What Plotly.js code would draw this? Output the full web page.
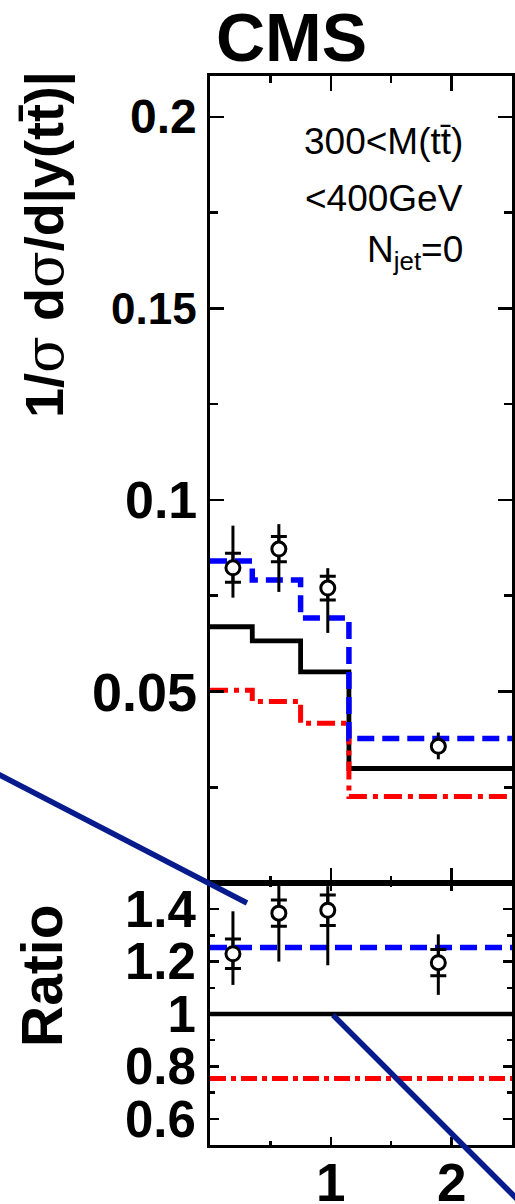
<!DOCTYPE html>
<html>
<head>
<meta charset="utf-8">
<script src="https://cdn.plot.ly/plotly-3.0.1.min.js"></script>
<style>html,body{margin:0;padding:0;background:#fff;}#chart{width:515px;height:1204px;}</style>
</head>
<body>
<div id="chart"></div>
<script>
// ---- data ----
const binEdges = [0, 0.35, 0.75, 1.15, 2.5];
const dataX = [0.19, 0.57, 0.975, 1.89];
const dataY = [0.0823, 0.0872, 0.0770, 0.0357];
const dataTotUp = [0.0110, 0.0065, 0.0052, 0.0036];
const dataTotDown = [0.0078, 0.0112, 0.0117, 0.0034];
const dataStat = [0.0038, 0.0033, 0.0031, null];
const predBlack = [0.0669, 0.0632, 0.0551, 0.0299];
const predBlue = [0.0841, 0.0791, 0.0692, 0.0377];
const predRed = [0.0503, 0.0474, 0.0417, 0.0226];
const ratioY = [1.230, 1.385, 1.396, 1.196];
const ratioTotUp = [0.162, 0.104, 0.092, 0.108];
const ratioTotDown = [0.119, 0.185, 0.210, 0.123];
const ratioStat = [0.056, 0.050, 0.058, 0.050];
const ratioBlack = [1, 1, 1, 1];
const ratioBlue = [1.254, 1.254, 1.254, 1.254];
const ratioRed = [0.754, 0.754, 0.754, 0.754];
const topTickVals = [0.05, 0.1, 0.15, 0.2];
const topTickText = ['0.05', '0.1', '0.15', '0.2'];
const ratioTickVals = [0.6, 0.8, 1, 1.2, 1.4];
const ratioTickText = ['0.6', '0.8', '1', '1.2', '1.4'];
const xTickVals = [1, 2];
const xTickText = ['1', '2'];
const labelLines = ['300&lt;M(tt\u0304)', '&lt;400GeV', 'N<sub>jet</sub>=0'];

// ---- styling ----
const FONT = 'Liberation Sans, Arial, Helvetica, sans-serif';
const topTickSizes = [54, 52, 44, 48];
const BLUE = '#0000ff', RED = '#ff0000';

function stepX() { return binEdges.slice(); }
function stepY(v) { return v.concat([v[v.length - 1]]); }

function stepTrace(vals, color, dash, width, xa, ya) {
  return {x: stepX(), y: stepY(vals), xaxis: xa, yaxis: ya, mode: 'lines',
    line: {shape: 'hv', color: color, dash: dash, width: width}, hoverinfo: 'skip'};
}
function pointTraces(xs, ys, up, down, stat, xa, ya) {
  return [
    {x: xs, y: ys, xaxis: xa, yaxis: ya, mode: 'markers', marker: {opacity: 0, size: 1},
     error_y: {type: 'data', symmetric: false, array: up, arrayminus: down, color: '#000', thickness: 3, width: 0}},
    {x: xs, y: ys, xaxis: xa, yaxis: ya, mode: 'markers', marker: {opacity: 0, size: 1},
     error_y: {type: 'data', symmetric: true, array: stat, color: '#000', thickness: 3, width: 8}},
    {x: xs, y: ys, xaxis: xa, yaxis: ya, mode: 'markers',
     marker: {symbol: 'circle', size: 14, color: '#fff', line: {color: '#000', width: 3}}}
  ];
}

const traces = [
  stepTrace(predBlack, '#000', 'solid', 4.8, 'x2', 'y2'),
  stepTrace(predRed, RED, '18px,6px,5px,6px', 5, 'x2', 'y2'),
  stepTrace(predBlue, BLUE, '17px,8px', 5.5, 'x2', 'y2'),
  ...pointTraces(dataX, dataY, dataTotUp, dataTotDown, dataStat, 'x2', 'y2'),
  stepTrace(ratioBlack, '#000', 'solid', 4.5, 'x', 'y'),
  stepTrace(ratioRed, RED, '16px,5px,5px,5px', 5, 'x', 'y'),
  stepTrace(ratioBlue, BLUE, '17px,8px', 5.5, 'x', 'y'),
  ...pointTraces(dataX, ratioY, ratioTotUp, ratioTotDown, ratioStat, 'x', 'y')
];

const split = (1145 - 883) / 1069;
const axBase = {showline: true, linewidth: 3, linecolor: '#000', mirror: 'allticks', ticks: 'inside',
  tickcolor: '#000', showgrid: false, zeroline: false, fixedrange: true};

const px = X => (X - 210) / 302, py = Y => (1145 - Y) / 1069;
const annotations = [];
// top panel y tick labels
topTickVals.forEach((v, i) => annotations.push({
  xref: 'paper', yref: 'y2', x: px(199), y: v, xanchor: 'right', yanchor: 'middle', showarrow: false,
  text: '<b>' + topTickText[i] + '</b>', font: {family: FONT, size: topTickSizes[i], color: '#000'}
}));
// bottom x tick labels
xTickVals.forEach((v, i) => annotations.push({
  xref: 'x', yref: 'paper', x: v, y: py(1182), xanchor: 'center', yanchor: 'middle', showarrow: false,
  text: '<b>' + xTickText[i] + '</b>', font: {family: FONT, size: 53, color: '#000'}
}));
// CMS
annotations.push({xref: 'paper', yref: 'paper', x: px(291), y: py(37),
  xanchor: 'center', yanchor: 'middle', showarrow: false, text: '<b>CMS</b>',
  font: {family: FONT, size: 68, color: '#000'}});
// y titles
annotations.push({xref: 'paper', yref: 'paper', x: px(44), y: py(245),
  xanchor: 'center', yanchor: 'middle', showarrow: false, textangle: -90,
  text: '<b>1/<span style="font-family:DejaVu Serif;font-weight:normal">σ</span> d<span style="font-family:DejaVu Serif;font-weight:normal">σ</span>/d|y(tt\u0304)|</b>',
  font: {family: FONT, size: 54, color: '#000'}});
annotations.push({xref: 'paper', yref: 'paper', x: px(42), y: py(976),
  xanchor: 'center', yanchor: 'middle', showarrow: false, textangle: -90,
  text: '<b>Ratio</b>', font: {family: FONT, size: 57, color: '#000'}});
// in-plot label
const labelYpx = [142, 198, 252];
labelLines.forEach((t, i) => annotations.push({
  xref: 'paper', yref: 'paper', x: px(465), y: py(labelYpx[i]),
  xanchor: 'right', yanchor: 'middle', showarrow: false, text: t,
  font: {family: FONT, size: 37, color: '#000'}
}));

const shapes = [
  {type: 'line', xref: 'paper', yref: 'paper', x0: px(-2), y0: py(774), x1: px(247), y1: py(903),
   line: {color: '#071b8c', width: 5.5}, layer: 'above'},
  {type: 'line', xref: 'paper', yref: 'paper', x0: px(333), y0: py(1015), x1: px(524), y1: py(1206),
   line: {color: '#071b8c', width: 5.5}, layer: 'above'}
];

const layout = {
  width: 515, height: 1204, showlegend: false,
  margin: {l: 210, r: 3, t: 76, b: 59},
  paper_bgcolor: '#fff', plot_bgcolor: '#fff',
  font: {family: FONT, color: '#000'},
  xaxis: Object.assign({}, axBase, {anchor: 'y', domain: [0, 1], range: [0, 2.5],
    tickmode: 'array', tickvals: xTickVals, showticklabels: false, ticklen: 8, tickwidth: 2.5,
    minor: {tickmode: 'linear', tick0: 0, dtick: 0.5, ticklen: 4, tickwidth: 2.5, tickcolor: '#000', ticks: 'inside'}}),
  yaxis: Object.assign({}, axBase, {anchor: 'x', domain: [0, split], range: [0.5, 1.5],
    tickmode: 'array', tickvals: ratioTickVals, ticktext: ratioTickText, ticklen: 9, tickwidth: 2.5,
    tickfont: {family: FONT, size: 51, color: '#000', weight: 'bold'}, ticklabelstandoff: 1,
    minor: {tickmode: 'linear', tick0: 0.5, dtick: 0.1, ticklen: 5, tickwidth: 2.5, tickcolor: '#000', ticks: 'inside'}}),
  xaxis2: Object.assign({}, axBase, {anchor: 'y2', domain: [0, 1], range: [0, 2.5], matches: 'x',
    tickmode: 'array', tickvals: xTickVals, showticklabels: false, ticklen: 15, tickwidth: 2.5,
    minor: {tickmode: 'linear', tick0: 0, dtick: 0.5, ticklen: 7, tickwidth: 2.5, tickcolor: '#000', ticks: 'inside'}}),
  yaxis2: Object.assign({}, axBase, {anchor: 'x2', domain: [split, 1], range: [0, 0.2107],
    tickmode: 'array', tickvals: topTickVals, showticklabels: false, ticklen: 14, tickwidth: 2.5,
    minor: {tickmode: 'linear', tick0: 0, dtick: 0.025, ticklen: 8, tickwidth: 2.5, tickcolor: '#000', ticks: 'inside'}}),
  annotations: annotations,
  shapes: shapes
};

Plotly.newPlot('chart', traces, layout, {staticPlot: true, displayModeBar: false});
</script>
</body>
</html>
